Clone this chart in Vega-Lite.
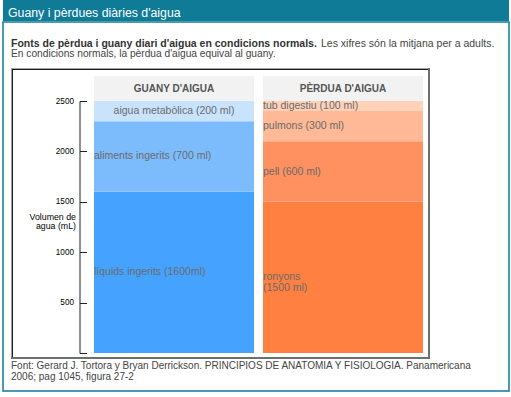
{
  "$schema": "https://vega.github.io/schema/vega-lite/v6.json",
  "padding": {"left": 2, "top": 0, "right": 2, "bottom": 7},
  "background": "white",
  "spacing": 0,
  "config": {"view": {"stroke": null}, "font": "Liberation Sans"},
  "vconcat": [
    {
      "width": 506,
      "height": 21,
      "view": {"fill": "#0f7b97", "stroke": null},
      "data": {"values": [{"t": "Guany i pèrdues diàries d'aigua"}]},
      "mark": {"type": "text", "align": "left", "baseline": "middle", "color": "white", "font": "Liberation Sans", "fontSize": 12.3},
      "encoding": {"text": {"field": "t"}, "x": {"value": 5}, "y": {"value": 12.5}}
    },
    {
      "width": 506,
      "height": 369,
      "view": {"stroke": "#0f7b97", "strokeWidth": 1.5, "fill": "white"},
      "layer": [
        {
          "data": {"values": [{"t": "Fonts de pèrdua i guany diari d'aigua en condicions normals."}]},
          "mark": {"type": "text", "align": "left", "baseline": "middle", "color": "#333333", "fontWeight": "bold", "fontSize": 10.5},
          "encoding": {"text": {"field": "t"}, "x": {"value": 8}, "y": {"value": 21.5}}
        },
        {
          "data": {"values": [{"t": "Les xifres són la mitjana per a adults."}]},
          "mark": {"type": "text", "align": "left", "baseline": "middle", "color": "#444444", "fontSize": 10.5},
          "encoding": {"text": {"field": "t"}, "x": {"value": 318}, "y": {"value": 21.5}}
        },
        {
          "data": {"values": [{"t": "En condicions normals, la pèrdua d'aigua equival al guany."}]},
          "mark": {"type": "text", "align": "left", "baseline": "middle", "color": "#444444", "fontSize": 10.2},
          "encoding": {"text": {"field": "t"}, "x": {"value": 8}, "y": {"value": 32}}
        },
        {
          "data": {"values": [{}]},
          "mark": {"type": "rect", "fill": "#6e6e6e"},
          "encoding": {"x": {"value": 8}, "x2": {"value": 427}, "y": {"value": 46}, "y2": {"value": 337}}
        },
        {
          "data": {"values": [{}]},
          "mark": {"type": "rect", "fill": "#a0a0a0"},
          "encoding": {"x": {"value": 8}, "x2": {"value": 425}, "y": {"value": 46}, "y2": {"value": 335}}
        },
        {
          "data": {"values": [{}]},
          "mark": {"type": "rect", "fill": "#1e1e1e"},
          "encoding": {"x": {"value": 9}, "x2": {"value": 425}, "y": {"value": 47}, "y2": {"value": 335}}
        },
        {
          "data": {"values": [{}]},
          "mark": {"type": "rect", "fill": "white"},
          "encoding": {"x": {"value": 10}, "x2": {"value": 425}, "y": {"value": 48}, "y2": {"value": 335}}
        },
        {
          "data": {"values": [
            {"panel": "GUANY D'AIGUA", "label": "líquids ingerits (1600ml)", "ml": 1600},
            {"panel": "GUANY D'AIGUA", "label": "aliments ingerits (700 ml)", "ml": 700},
            {"panel": "GUANY D'AIGUA", "label": "aigua metabòlica (200 ml)", "ml": 200},
            {"panel": "PÈRDUA D'AIGUA", "label": "ronyons\n(1500 ml)", "ml": 1500},
            {"panel": "PÈRDUA D'AIGUA", "label": "pell (600 ml)", "ml": 600},
            {"panel": "PÈRDUA D'AIGUA", "label": "pulmons (300 ml)", "ml": 300},
            {"panel": "PÈRDUA D'AIGUA", "label": "tub digestiu (100 ml)", "ml": 100}
          ]},
          "transform": [
            {"stack": "ml", "groupby": ["panel"], "sort": [{"field": "ml", "order": "descending"}], "as": ["y0", "y1"]},
            {"calculate": "(datum.y0 + datum.y1) / 2", "as": "ymid"}
          ],
          "layer": [
            {
              "mark": {"type": "bar"},
              "encoding": {
                "x": {"field": "panel", "type": "nominal", "axis": null, "scale": {"type": "band", "domain": ["GUANY D'AIGUA", "PÈRDUA D'AIGUA"], "range": [91, 420], "paddingInner": 0.05325, "paddingOuter": 0}},
                "y": {
                  "field": "y0", "type": "quantitative",
                  "scale": {"domain": [0, 2500], "range": [331, 79], "nice": false, "zero": true},
                  "axis": {
                    "values": [0, 500, 1000, 1500, 2000, 2500],
                    "format": "d",
                    "labelExpr": "datum.value == 0 ? '' : datum.label",
                    "offset": -76.5,
                    "zindex": 2,
                    "grid": false,
                    "domainColor": "#222222",
                    "tickColor": "#222222",
                    "tickSize": -7,
                    "labelPadding": 13,
                    "labelFont": "Liberation Sans",
                    "labelFontSize": 8.2,
                    "labelColor": "#000000",
                    "labelFlush": false,
                    "labelOverlap": false,
                    "title": ["Volumen de", "agua (mL)"],
                    "titleAngle": 0,
                    "titleAlign": "right",
                    "titleBaseline": "middle",
                    "titleX": -4,
                    "titleY": 194,
                    "titleFont": "Liberation Sans",
                    "titleFontSize": 8.8,
                    "titleFontWeight": "normal",
                    "titleColor": "#000000",
                    "titleLineHeight": 9
                  }
                },
                "y2": {"field": "y1"},
                "color": {
                  "field": "label", "type": "nominal", "legend": null,
                  "scale": {
                    "domain": ["líquids ingerits (1600ml)", "aliments ingerits (700 ml)", "aigua metabòlica (200 ml)", "ronyons\n(1500 ml)", "pell (600 ml)", "pulmons (300 ml)", "tub digestiu (100 ml)"],
                    "range": ["#45a3ff", "#7cbcfd", "#c9e3fd", "#ff8040", "#ff9160", "#ffb996", "#ffd1b9"]
                  }
                }
              }
            },
            {
              "transform": [{"filter": "datum.label != 'aigua metabòlica (200 ml)'"}],
              "mark": {"type": "text", "align": "left", "baseline": "middle", "fontSize": 10.5, "color": "#6b6b6b", "lineBreak": "\n", "lineHeight": 11},
              "encoding": {
                "x": {"field": "panel", "type": "nominal", "bandPosition": 0},
                "y": {"field": "ymid", "type": "quantitative"},
                "text": {"field": "label"}
              }
            },
            {
              "transform": [{"filter": "datum.label == 'aigua metabòlica (200 ml)'"}],
              "mark": {"type": "text", "align": "center", "baseline": "middle", "fontSize": 10.5, "color": "#6b6b6b"},
              "encoding": {
                "x": {"field": "panel", "type": "nominal", "bandPosition": 0.5},
                "y": {"field": "ymid", "type": "quantitative"},
                "text": {"field": "label"}
              }
            }
          ]
        },
        {
          "data": {"values": [{"panel": "GUANY D'AIGUA"}, {"panel": "PÈRDUA D'AIGUA"}]},
          "layer": [
            {
              "mark": {"type": "bar", "fill": "#f2f2f2"},
              "encoding": {
                "x": {"field": "panel", "type": "nominal"},
                "y": {"datum": 2500, "type": "quantitative"},
                "y2": {"datum": 2748}
              }
            },
            {
              "mark": {"type": "text", "align": "center", "baseline": "middle", "fontWeight": "bold", "fontSize": 10, "color": "#555555"},
              "encoding": {
                "x": {"field": "panel", "type": "nominal", "bandPosition": 0.5},
                "y": {"datum": 2621, "type": "quantitative"},
                "text": {"field": "panel"}
              }
            }
          ]
        },
        {
          "data": {"values": [{"t": "Font: Gerard J. Tortora y Bryan Derrickson. PRINCIPIOS DE ANATOMIA Y FISIOLOGIA. Panamericana"}]},
          "mark": {"type": "text", "align": "left", "baseline": "middle", "color": "#444444", "fontSize": 10},
          "encoding": {"text": {"field": "t"}, "x": {"value": 8}, "y": {"value": 344}}
        },
        {
          "data": {"values": [{"t": "2006; pag 1045, figura 27-2"}]},
          "mark": {"type": "text", "align": "left", "baseline": "middle", "color": "#444444", "fontSize": 10},
          "encoding": {"text": {"field": "t"}, "x": {"value": 8}, "y": {"value": 354.5}}
        }
      ]
    }
  ]
}
